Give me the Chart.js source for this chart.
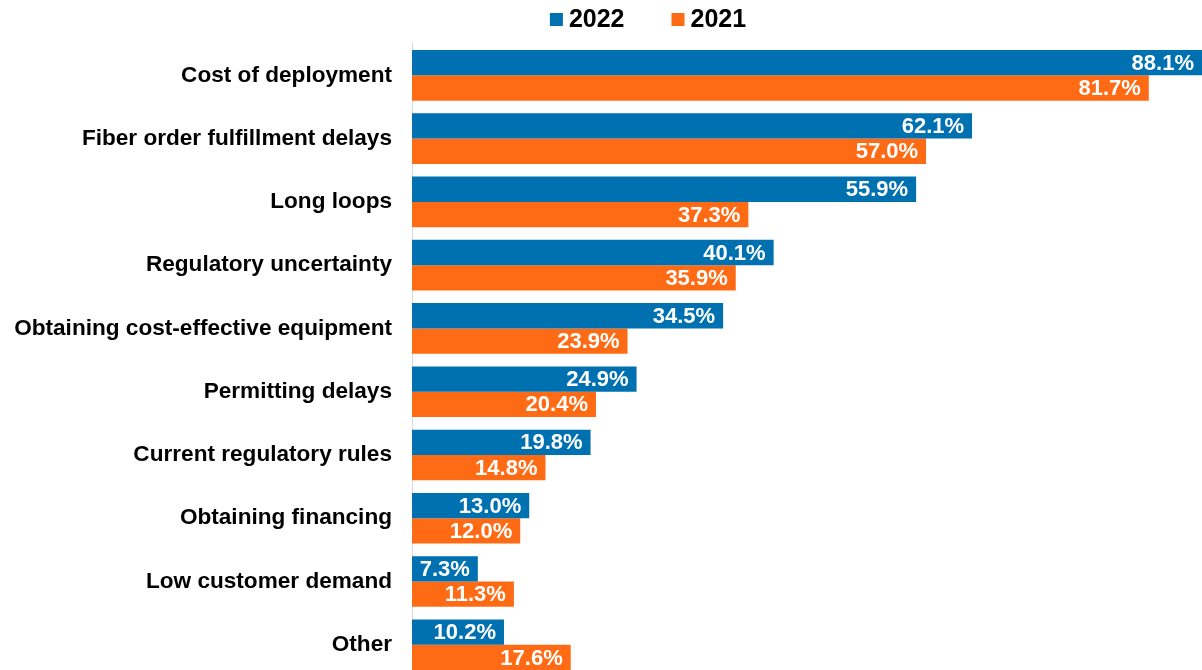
<!DOCTYPE html>
<html>
<head>
<meta charset="utf-8">
<script src="https://cdn.jsdelivr.net/npm/chart.js@4.4.1/dist/chart.umd.min.js"></script>
<style>
  html, body { margin: 0; padding: 0; overflow: hidden; background: #fff; }
  canvas { display: block; }
</style>
</head>
<body>
<canvas id="chart" width="1202" height="710"></canvas>
<script>
const categories = [
    'Cost of deployment',
    'Fiber order fulfillment delays',
    'Long loops',
    'Regulatory uncertainty',
    'Obtaining cost-effective equipment',
    'Permitting delays',
    'Current regulatory rules',
    'Obtaining financing',
    'Low customer demand',
    'Other'
];
const seriesNames = ['2022', '2021'];
const values2022 = [88.1, 62.1, 55.9, 40.1, 34.5, 24.9, 19.8, 13.0, 7.3, 10.2];
const values2021 = [81.7, 57.0, 37.3, 35.9, 23.9, 20.4, 14.8, 12.0, 11.3, 17.6];

const FONT = "'Liberation Sans', Arial, sans-serif";

// white value labels at the inner end of each bar
const barLabels = {
    id: 'barLabels',
    afterDatasetsDraw(chart) {
        const { ctx, chartArea } = chart;
        ctx.save();
        ctx.font = 'bold 22px ' + FONT;
        ctx.fillStyle = '#fff';
        ctx.textAlign = 'right';
        ctx.textBaseline = 'middle';
        chart.data.datasets.forEach((ds, i) => {
            chart.getDatasetMeta(i).data.forEach((bar, j) => {
                const x = Math.min(bar.x, chartArea.right) - 8;
                ctx.fillText(ds.data[j].toFixed(1) + '%', x, bar.y + 1);
            });
        });
        ctx.restore();
    }
};

// legend drawn by hand so the box/text spacing matches
const topLegend = {
    id: 'topLegend',
    afterDraw(chart) {
        const { ctx } = chart;
        ctx.save();
        ctx.font = 'bold 25px ' + FONT;
        ctx.textBaseline = 'middle';
        ctx.textAlign = 'left';
        const box = 13, gap = 6, spacing = 47;
        const items = chart.data.datasets.map(ds => ({
            label: ds.label, color: ds.backgroundColor, w: box + gap + ctx.measureText(ds.label).width
        }));
        const total = items.reduce((s, it) => s + it.w, 0) + spacing * (items.length - 1);
        let x = 648 - total / 2;
        items.forEach(it => {
            ctx.fillStyle = it.color;
            ctx.fillRect(x, 13, box, box);
            ctx.fillStyle = '#000';
            ctx.fillText(it.label, x + box + gap, 20);
            x += it.w + spacing;
        });
        ctx.restore();
    }
};

new Chart(document.getElementById('chart'), {
    type: 'bar',
    data: {
        labels: categories,
        datasets: [
            { label: seriesNames[0], data: values2022, backgroundColor: '#0071B0' },
            { label: seriesNames[1], data: values2021, backgroundColor: '#FF6B14' }
        ]
    },
    options: {
        indexAxis: 'y',
        responsive: false,
        animation: false,
        categoryPercentage: 0.8,
        barPercentage: 1.0,
        layout: { padding: { top: 43.7, left: 0, right: 0, bottom: 0 } },
        plugins: { legend: { display: false }, tooltip: { enabled: false } },
        scales: {
            x: { display: false, min: 0, max: 87.6 },
            y: {
                afterFit(scale) { scale.width = 412; },
                grid: { display: false, drawTicks: false },
                border: { display: true, color: '#d9d9d9', width: 1 },
                ticks: { color: '#000', padding: 20, font: { family: FONT, size: 22.6, weight: 'bold' } }
            }
        }
    },
    plugins: [barLabels, topLegend]
});
</script>
</body>
</html>
